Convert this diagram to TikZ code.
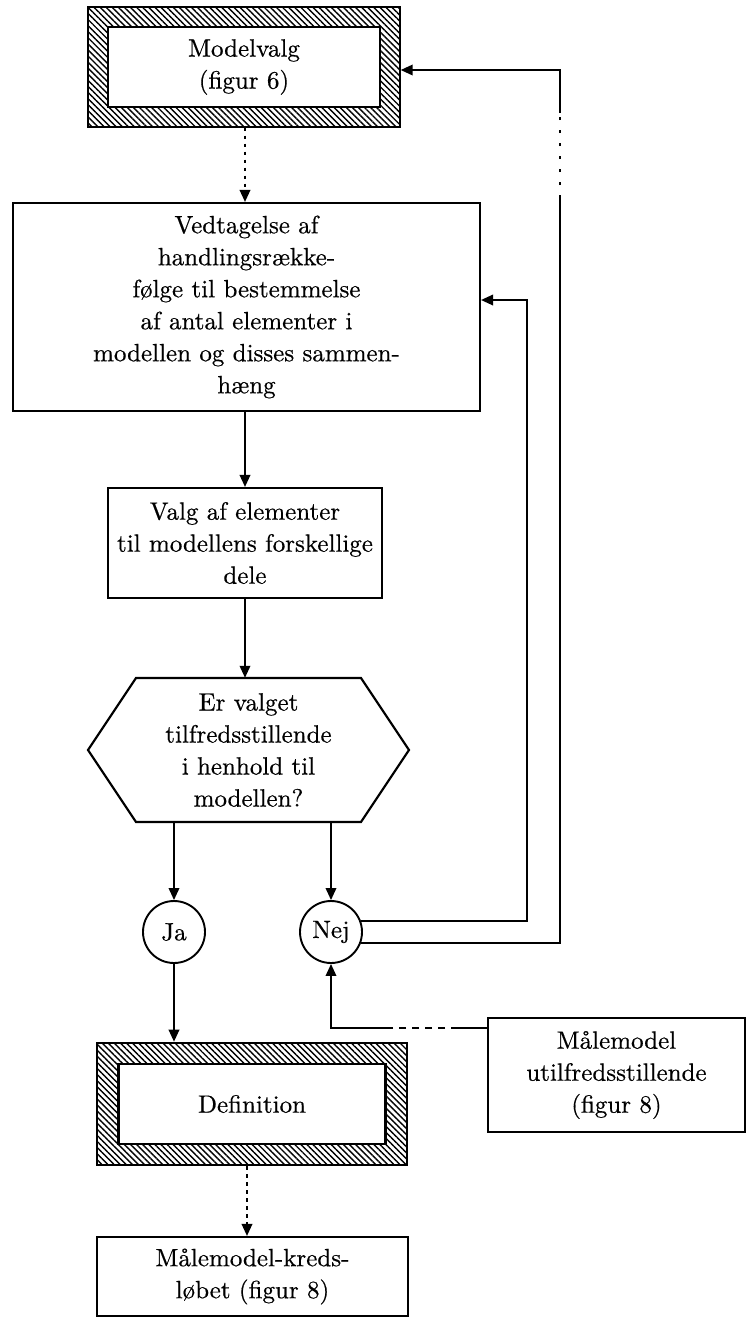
\documentclass[tikz,border=0pt]{standalone}
\usepackage{fontspec}
\usetikzlibrary{arrows.meta,patterns.meta}
% slightly heavier roman for the labels
\newfontfamily\labelfont{lmroman10-regular.otf}[FakeBold=0.5]
\begin{document}
\begin{tikzpicture}[x=1pt,y=-1pt,
  every node/.style={font=\labelfont\fontsize{25}{32}\selectfont},
  conn/.style={line width=1.9pt},
  arr/.style={conn, -{Triangle[length=12pt,width=10.5pt]}},
  stdbox/.style={draw, line width=2.1pt, fill=white, align=center, inner sep=0pt},
  hatchframe/.style={draw, line width=2.6pt, inner sep=0pt,
    pattern={Lines[angle=-45,distance=4.3pt,line width=1.4pt]}},
  innerbox/.style={stdbox, line width=2.6pt},
  yesno/.style={draw, circle, line width=1.9pt, inner sep=0pt, minimum size=62pt},
  dotline/.style={dash pattern=on 3.5pt off 4.5pt},
  sparse/.style={dash pattern=on 3pt off 10pt},
  dashline/.style={dash pattern=on 7pt off 6pt}]

\fill[white] (0,0) rectangle (747,1318);
\useasboundingbox (0,0) rectangle (747,1318);

% model choice, hatched frame
\node[hatchframe, minimum width=312pt, minimum height=120pt] (mvf) at (244,67) {};
\node[innerbox, minimum width=272pt, minimum height=80pt] (mv) at (mvf.center) {Modelvalg\\(figur 6)};

% procedure box
\node[stdbox, minimum width=467pt, minimum height=208pt] (vedt) at (246.5,307)
  {Vedtagelse af\\handlingsrække-\\følge til bestemmelse\\af antal elementer i\\modellen og disses sammen-\\hæng};

% choice of elements
\node[stdbox, minimum width=274pt, minimum height=110pt] (valg) at (245,543)
  {Valg af elementer\\til modellens forskellige\\dele};

% decision hexagon
\node[align=center, inner sep=0pt, minimum height=144pt] (q) at (248.5,750)
  {Er valget\\tilfredsstillende\\i henhold til\\modellen?};
\draw[line width=2.1pt] (88,750) -- (136,678) -- (361,678) -- (409,750) -- (361,822) -- (136,822) -- cycle;

% answers
\node[yesno] (ja) at (174,932) {Ja};
\node[yesno] (nej) at (331,932) {Nej};

% definition, hatched frame
\node[hatchframe, minimum width=310pt, minimum height=122pt] (deff) at (252,1104) {};
\node[innerbox, minimum width=267pt, minimum height=80pt] (def) at (deff.center) {Definition};

% measuring model boxes
\node[stdbox, minimum width=257pt, minimum height=114pt] (mm) at (616.5,1075)
  {Målemodel\\utilfredsstillende\\(figur 8)};
\node[stdbox, minimum width=311pt, minimum height=79pt] (mk) at (252.5,1276.5)
  {Målemodel-kreds-\\løbet (figur 8)};

% main chain
\coordinate (vx) at (245,0);
\draw[arr, dotline] (mvf.south -| vx) -- (vedt.north -| vx);
\draw[arr] (vedt.south -| vx) -- (valg.north -| vx);
\draw[arr] (valg.south -| vx) -- (q.north -| vx);
\draw[arr] (q.south -| ja) -- (ja);
\draw[arr] (q.south -| nej) -- (nej);
\draw[arr] (ja) -- (ja |- deff.north);
\coordinate (wx) at (247,0);
\draw[arr, dotline] (deff.south -| wx) -- (mk.north -| wx);

% feedback loops from "Nej"
\coordinate (ix) at (527,300);
\draw[arr] (nej.21) -| (ix) -- (ix -| vedt.east);
\coordinate (s1) at (560,198);
\coordinate (s2) at (560,113);
\draw[conn] (nej.-20) -| (s1);
\draw[conn, sparse] (s1) -- (s2);
\coordinate (s3) at (560,70);
\draw[arr] (s2) -- (s3) -- (s3 -| mvf.east);

% unsatisfactory measuring model back to "Nej"
\coordinate (d1) at (458,1028);
\coordinate (d2) at (387,1028);
\draw[conn] (mm.west |- d1) -- (d1);
\draw[conn, dashline] (d1) -- (d2);
\draw[arr] (d2) -| (nej.south);
\end{tikzpicture}
\end{document}
